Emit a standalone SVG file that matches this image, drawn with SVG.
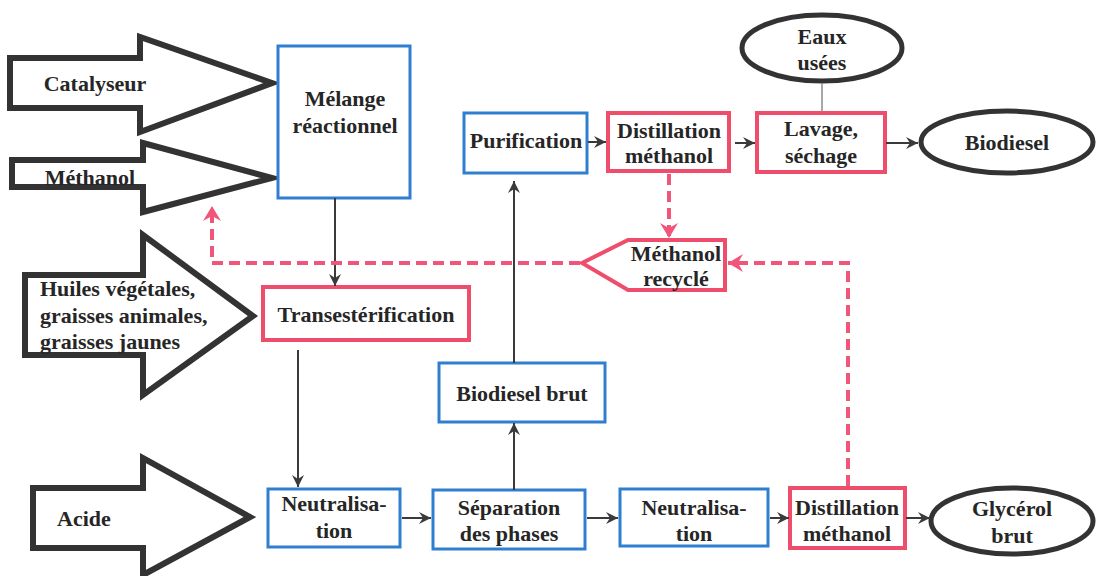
<svg xmlns="http://www.w3.org/2000/svg" width="1096" height="576" viewBox="0 0 1096 576">
<style>
text{font-weight:bold;font-size:22px;fill:#262626;text-anchor:middle;dominant-baseline:central}
.big{fill:#fff;stroke:#333;stroke-width:6;stroke-linejoin:miter}
.blue{fill:#fff;stroke:#2f7fd0;stroke-width:3}
.red{fill:#fff;stroke:#ee4d6c;stroke-width:4}
.ell{fill:#fff;stroke:#333;stroke-width:5}
.c{fill:none;stroke:#3a3a3a;stroke-width:2}
.cg{fill:none;stroke:#8a8a8a;stroke-width:1.5}
.d{fill:none;stroke:#f2557a;stroke-width:4;stroke-dasharray:11,6}
.l{text-anchor:start}
</style>
<defs>
<marker id="ah" markerUnits="userSpaceOnUse" markerWidth="14" markerHeight="12" refX="12" refY="6" orient="auto"><path d="M0,0 L12,6 L0,12 L4,6 Z" fill="#3a3a3a"/></marker>
<marker id="ahp" markerUnits="userSpaceOnUse" markerWidth="18" markerHeight="18" refX="15" refY="9" orient="auto"><path d="M0,0 L15,9 L0,18 L5,9 Z" fill="#f2557a"/></marker>
</defs>
<g font-family="Liberation Serif, DejaVu Serif, serif">
<g id="in-catalyseur"><polygon class="big" points="10,58 140,58 140,37 272,83 140,132 140,108 10,108"/><text x="95" y="83">Catalyseur</text></g>
<g id="in-methanol"><polygon class="big" points="12,160 143,160 143,143 272,178 143,212 143,187 12,187"/><text x="90" y="177">Méthanol</text></g>
<g id="in-huiles"><polygon class="big" points="25,275 143,275 143,235 253,316 143,395 143,355 25,355"/><text class="l" x="40" y="288">Huiles végétales,</text><text class="l" x="40" y="315">graisses animales,</text><text class="l" x="40" y="341">graisses jaunes</text></g>
<g id="in-acide"><polygon class="big" points="33,488 143,488 143,458 250,517 143,575 143,548 33,548"/><text x="84" y="518">Acide</text></g>

<g id="melange"><rect class="blue" x="278" y="46" width="132" height="152"/><text x="345" y="98">Mélange</text><text x="345" y="125">réactionnel</text></g>
<g id="transesterification"><rect class="red" x="263" y="287" width="206" height="53"/><text x="366" y="314">Transestérification</text></g>
<g id="purification"><rect class="blue" x="464" y="113" width="123" height="60"/><text x="526" y="140">Purification</text></g>
<g id="distillation1"><rect class="red" x="608" y="113" width="121" height="58"/><text x="669" y="130">Distillation</text><text x="669" y="155">méthanol</text></g>
<g id="lavage"><rect class="red" x="757" y="113" width="128" height="59"/><text x="821" y="128">Lavage,</text><text x="821" y="155">séchage</text></g>
<g id="eaux"><ellipse class="ell" cx="822" cy="48" rx="80" ry="33"/><text x="822" y="36">Eaux</text><text x="822" y="62">usées</text></g>
<g id="biodiesel"><ellipse class="ell" cx="1007" cy="142" rx="86" ry="31"/><text x="1007" y="142">Biodiesel</text></g>
<g id="methanol-recycle"><polygon class="red" points="582,263 628,240 725,240 725,290 628,290"/><text x="676" y="253">Méthanol</text><text x="676" y="278">recyclé</text></g>
<g id="neutralisation1"><rect class="blue" x="268" y="489" width="132" height="58"/><text x="334" y="503">Neutralisa-</text><text x="334" y="530">tion</text></g>
<g id="separation"><rect class="blue" x="433" y="490" width="152" height="59"/><text x="509" y="507">Séparation</text><text x="509" y="533">des phases</text></g>
<g id="biodiesel-brut"><rect class="blue" x="439" y="363" width="166" height="59"/><text x="522" y="393">Biodiesel brut</text></g>
<g id="neutralisation2"><rect class="blue" x="620" y="489" width="148" height="57"/><text x="694" y="507">Neutralisa-</text><text x="694" y="533">tion</text></g>
<g id="distillation2"><rect class="red" x="790" y="488" width="115" height="60"/><text x="847" y="507">Distillation</text><text x="847" y="533">méthanol</text></g>
<g id="glycerol"><ellipse class="ell" cx="1012" cy="521" rx="81" ry="33"/><text x="1012" y="508">Glycérol</text><text x="1012" y="535">brut</text></g>
</g>
<g id="connectors">
<line class="c" x1="335" y1="198" x2="335" y2="286" marker-end="url(#ah)"/>
<line class="c" x1="298" y1="350" x2="298" y2="487" marker-end="url(#ah)"/>
<line class="c" x1="402" y1="518" x2="431" y2="518" marker-end="url(#ah)"/>
<line class="c" x1="514" y1="490" x2="514" y2="423" marker-end="url(#ah)"/>
<line class="c" x1="514" y1="363" x2="514" y2="181" marker-end="url(#ah)"/>
<line class="c" x1="587" y1="518" x2="618" y2="518" marker-end="url(#ah)"/>
<line class="c" x1="770" y1="518" x2="789" y2="518" marker-end="url(#ah)"/>
<line class="c" x1="906" y1="518" x2="930" y2="518" marker-end="url(#ah)"/>
<line class="c" x1="588" y1="142" x2="606" y2="142" marker-end="url(#ah)"/>
<line class="c" x1="735" y1="143" x2="755" y2="143" marker-end="url(#ah)"/>
<line class="c" x1="886" y1="143" x2="918" y2="143" marker-end="url(#ah)"/>
<line class="cg" x1="822" y1="112" x2="822" y2="83"/>
<path class="d" d="M669,174 L669,238" marker-end="url(#ahp)"/>
<path class="d" d="M848,486 L848,263 L728,263" marker-end="url(#ahp)"/>
<path class="d" d="M580,263 L212,263 L212,206" marker-end="url(#ahp)"/>
</g>
</svg>
